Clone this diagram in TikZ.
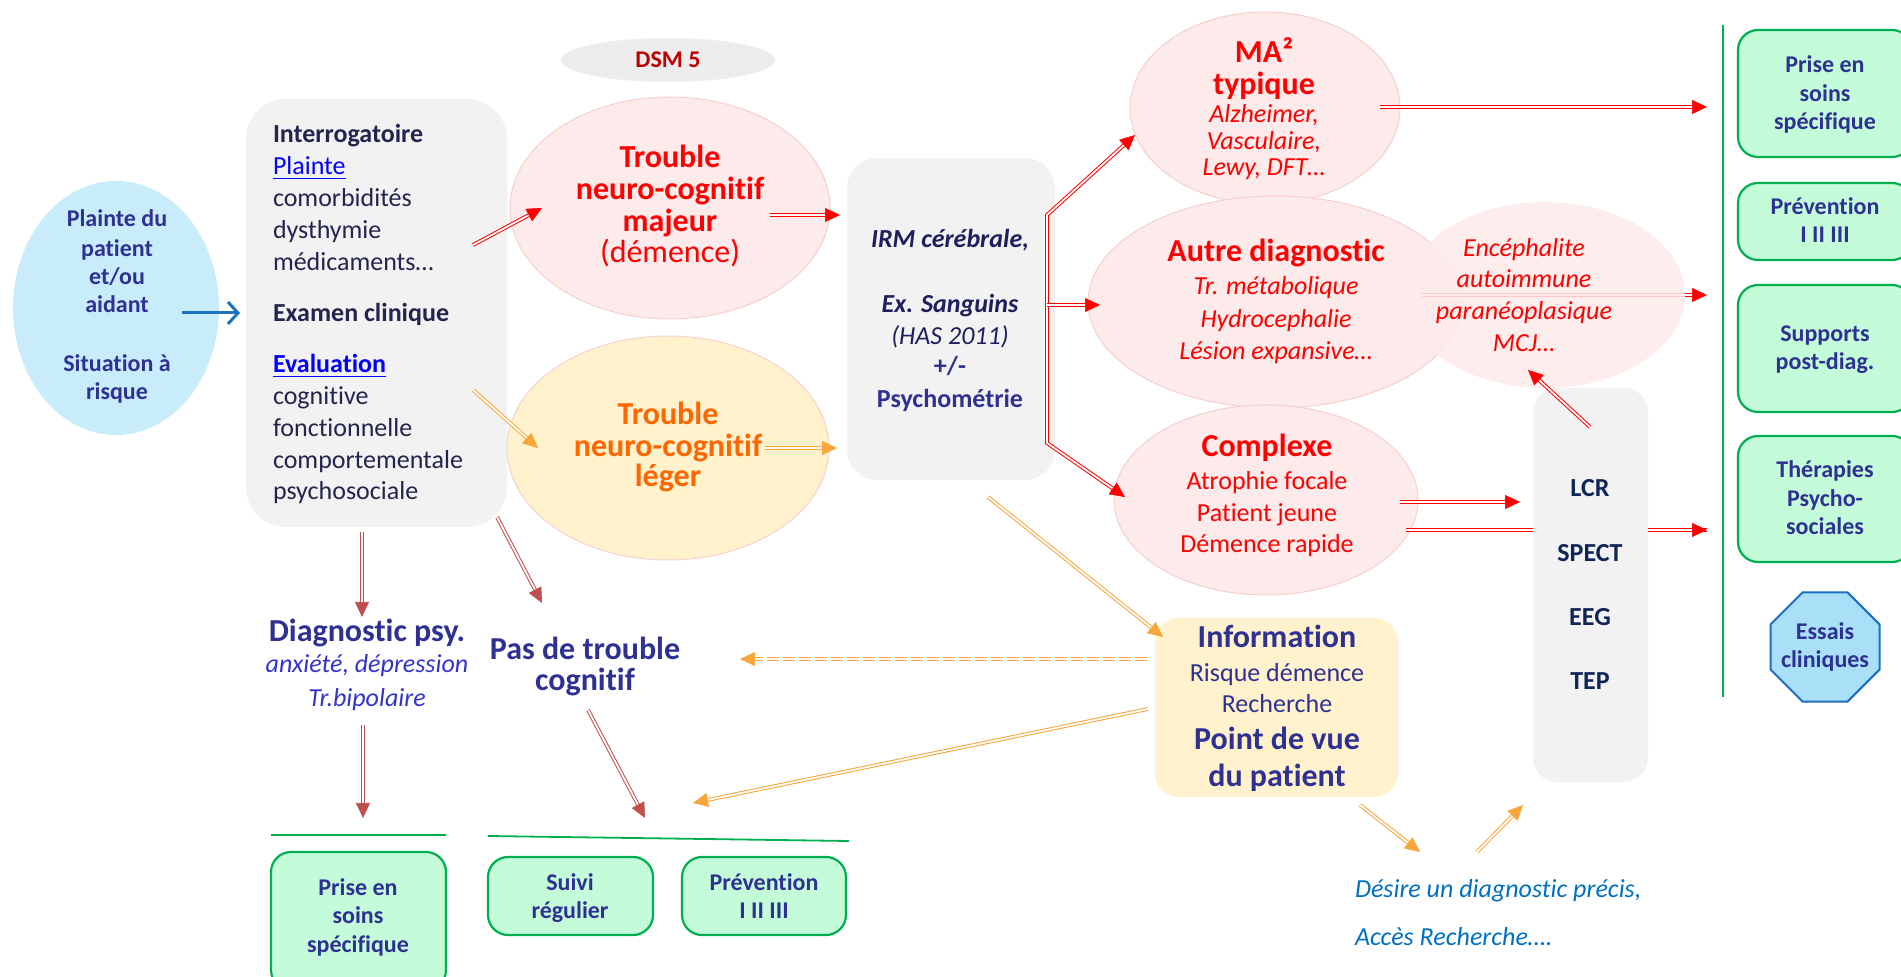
\documentclass[tikz,border=0pt]{standalone}
\usepackage{fontspec}
\setmainfont{Carlito}[Ligatures=NoCommon]
\usetikzlibrary{arrows.meta,calc,shapes.geometric}
\definecolor{navy}{HTML}{2E3192}
\definecolor{boxtxt}{HTML}{24244F}
\definecolor{irmtxt}{HTML}{1F1F5E}
\definecolor{lcrtxt}{HTML}{0F2557}
\definecolor{myred}{HTML}{FF0000}
\definecolor{dred}{HTML}{C0504D}
\definecolor{orng}{HTML}{F8A53A}
\definecolor{orgtxt}{HTML}{FF6600}
\definecolor{dsmred}{HTML}{C00000}
\definecolor{pinkfill}{HTML}{FDEAEA}
\definecolor{pinkedge}{HTML}{F6CFCF}
\definecolor{yelfill}{HTML}{FFF2CC}
\definecolor{grayfill}{HTML}{F2F2F2}
\definecolor{bluefill}{HTML}{C8ECFA}
\definecolor{mint}{HTML}{C4FCDA}
\definecolor{grn}{HTML}{00B050}
\definecolor{arrblue}{HTML}{1C75BC}
\definecolor{octfill}{HTML}{A9E0F8}
\definecolor{octedge}{HTML}{1F6FC0}
\definecolor{italblue}{HTML}{3333CC}
\definecolor{desblue}{HTML}{0070C0}
\definecolor{linkblue}{HTML}{0000FF}
\newcommand\mytip[3]{\draw[#1, line width=0.3pt, -{Triangle[length=7.5pt,width=7pt]}] ($(#3)!7pt!(#2)$) -- (#3);}
\newcommand\darrow[4][]{\draw[dbl=#2, #1] (#3) -- (#4); \mytip{#2}{#3}{#4}}
\begin{document}
\begin{tikzpicture}[x=0.5pt,y=-0.5pt,
  every node/.style={inner sep=0pt, outer sep=0pt},
  tl/.style={anchor=base},
  tlw/.style={anchor=base west},
  fb16/.style={font=\fontsize{16}{19}\selectfont\bfseries},
  fr16/.style={font=\fontsize{16}{19}\selectfont},
  fb13/.style={font=\fontsize{13}{16}\selectfont\bfseries},
  fb12/.style={font=\fontsize{12}{14}\selectfont\bfseries},
  fr13/.style={font=\fontsize{13}{16}\selectfont},
  fi13/.style={font=\fontsize{13}{16}\selectfont\itshape},
  fbi13/.style={font=\fontsize{13}{16}\selectfont\bfseries\itshape},
  pinkell/.style={ellipse, fill=pinkfill, draw=pinkedge, line width=0.5pt},
  graybox/.style={rectangle, fill=grayfill},
  greenbox/.style={rectangle, rounded corners=10pt, fill=mint, draw=grn, line width=1.1pt},
  dbl/.style={draw=#1, line width=0.5pt, double=white, double distance=0.9pt, shorten >=6pt},
]
\useasboundingbox (0,0) rectangle (1901,977);
\clip (0,0) rectangle (1901,977);

% ---------- coordinates for connectors
\coordinate (bl1) at (182,313); \coordinate (bl2) at (240,313);
\coordinate (a1s) at (473,245); \coordinate (a1e) at (542,208);
\coordinate (a2s) at (770,215); \coordinate (a2e) at (840,215);
\coordinate (brt) at (1047,215); \coordinate (brm) at (1047,305); \coordinate (brb) at (1047,443);
\coordinate (mae) at (1135,135); \coordinate (aue) at (1100,305); \coordinate (cxe) at (1125,497);
\coordinate (r1s) at (1380,107); \coordinate (r1e) at (1707,107);
\coordinate (r2s) at (1422,295); \coordinate (r2e) at (1707,295);
\coordinate (r3s) at (1400,502); \coordinate (r3e) at (1520,502);
\coordinate (r4s) at (1406,530); \coordinate (r4e) at (1707,530);
\coordinate (r5s) at (1590,427); \coordinate (r5e) at (1528,370);
\coordinate (o1s) at (473,390); \coordinate (o1e) at (538,448);
\coordinate (o2s) at (765,448); \coordinate (o2e) at (837,448);
\coordinate (o3s) at (988,497); \coordinate (o3e) at (1163,637);
\coordinate (o4s) at (1147,659); \coordinate (o4e) at (740,659);
\coordinate (o5s) at (1148,709); \coordinate (o5e) at (693,803);
\coordinate (o6s) at (1360,805); \coordinate (o6e) at (1420,852);
\coordinate (o7s) at (1477,852); \coordinate (o7e) at (1523,805);
\coordinate (d1s) at (362,532); \coordinate (d1e) at (362,617);
\coordinate (d2s) at (497,517); \coordinate (d2e) at (542,603);
\coordinate (d3s) at (363,725); \coordinate (d3e) at (363,818);
\coordinate (d4s) at (588,710); \coordinate (d4e) at (645,818);
\coordinate (gv1) at (1723,25); \coordinate (gv2) at (1723,697);
\coordinate (gh1a) at (271,835); \coordinate (gh1b) at (446,835);
\coordinate (gh2a) at (488,836); \coordinate (gh2b) at (849,841);

% ---------- shapes
\node[ellipse, fill=bluefill, minimum width=103pt, minimum height=127pt] (pat) at (116,308) {};
\node[graybox, rounded corners=20pt, minimum width=130.5pt, minimum height=214pt] (box1) at (376.5,313) {};
\node[ellipse, fill=black!7, minimum width=107pt, minimum height=22pt] (dsm) at (668,60) {};
\node[pinkell, minimum width=160pt, minimum height=111pt] (maj) at (670,208) {};
\node[ellipse, fill=yelfill, draw=pinkedge, line width=0.5pt, minimum width=161pt, minimum height=112pt] (leg) at (668,448) {};
\node[graybox, rounded corners=15pt, minimum width=104pt, minimum height=161pt] (irm) at (951,319) {};
\node[pinkell, minimum width=135pt, minimum height=96pt] (ma) at (1265,108) {};
\node[pinkell, minimum width=187pt, minimum height=106pt] (autre) at (1275,302) {};
\node[tl, fb16, text=myred] (autre-1) at (1276,262) {Autre diagnostic};
\foreach \i/\y/\tx in {2/295/{Tr. métabolique},3/328/{Hydrocephalie},4/360/{Lésion expansive…}}
  \node[tl, fi13, text=myred] (autre-\i) at (1276,\y) {\tx};
\darrow{myred}{r2s}{r2e}
\node[pinkell, minimum width=152pt, minimum height=95pt] (cx) at (1266,500) {};
\draw[dbl=myred, shorten >=0pt] (r4s) -- (r4e);
\node[graybox, rounded corners=12pt, minimum width=57.5pt, minimum height=197pt] (lcr) at (1590.5,585) {};
\mytip{myred}{r4s}{r4e}
\node[ellipse, fill=pinkfill, fill opacity=0.85, minimum width=140pt, minimum height=93pt] (enc) at (1545,295) {};
\node[rectangle, rounded corners=12pt, fill=yelfill, minimum width=121.5pt, minimum height=89.5pt] (info) at (1276.5,707.5) {};

% right column
\draw[grn, line width=1pt] (gv1) -- (gv2);
\node[greenbox, minimum width=87pt, minimum height=63.5pt] (r1) at (1825,93.5) {};
\node[greenbox, minimum width=87pt, minimum height=38.5pt] (r2) at (1825,221.5) {};
\node[greenbox, minimum width=87pt, minimum height=63.5pt] (r3) at (1825,348.5) {};
\node[greenbox, minimum width=87pt, minimum height=63pt] (r4) at (1825,499) {};
\node[regular polygon, regular polygon sides=8, minimum size=59pt, fill=octfill, draw=octedge, line width=1pt] (ess) at (1825,647) {};

% bottom
\draw[grn, line width=1.1pt] (gh1a) -- (gh1b);
\draw[grn, line width=0.9pt] (gh2a) -- (gh2b);
\node[greenbox, minimum width=87.5pt, minimum height=69pt] (b1) at (358.5,921) {};
\node[greenbox, minimum width=82.5pt, minimum height=39pt] (b2) at (570.5,896) {};
\node[greenbox, minimum width=82pt, minimum height=39pt] (b3) at (764,896) {};

% ---------- texts
\foreach \i/\y/\tx in {1/227/{Plainte du},2/257/{patient},3/285/{et/ou},4/313/{aidant},5/372/{Situation à},6/400/{risque}}
  \node[tl, fb12, text=navy] (pat-\i) at (117,\y) {\tx};
\foreach \i/\y/\tx in {1/143/{\textbf{Interrogatoire}},2/175/{\textcolor{linkblue}{\underline{Plainte}}},3/207/{comorbidités},4/239/{dysthymie},5/271/{médicaments…},6/322/{\textbf{Examen clinique}},7/373/{\textcolor{linkblue}{\underline{\textbf{Evaluation}}}},8/405/{cognitive},9/437/{fonctionnelle},10/469/{comportementale},11/500/{psychosociale}}
  \node[tlw, fr13, text=boxtxt] (b1-\i) at (273,\y) {\tx};
\node[tl, fb12, text=dsmred] (dsm-t) at (668,68) {DSM 5};
\foreach \i/\y/\tx in {1/168/{\textbf{Trouble}},2/200/{\textbf{neuro-cognitif}},3/232/{\textbf{majeur}},4/263/{(démence)}}
  \node[tl, fr16, text=myred] (maj-\i) at (670,\y) {\tx};
\foreach \i/\y/\tx in {1/425/{Trouble},2/457/{neuro-cognitif},3/487/{léger}}
  \node[tl, fb16, text=orgtxt] (leg-\i) at (668,\y) {\tx};
\node[tl, fbi13, text=irmtxt] (irm-1) at (950,248) {IRM cérébrale,};
\node[tl, fbi13, text=irmtxt] (irm-2) at (950,313) {Ex. Sanguins};
\node[tl, fi13, text=irmtxt] (irm-3) at (950,345) {(HAS 2011)};
\node[tl, fb13, text=navy] (irm-4) at (950,375) {+/-};
\node[tl, fb13, text=navy] (irm-5) at (950,408) {Psychométrie};
\node[tl, fb16, text=myred] (ma-1) at (1264,63) {MA²};
\node[tl, fb16, text=myred] (ma-2) at (1264,95) {typique};
\foreach \i/\y/\tx in {3/123/{Alzheimer,},4/150/{Vasculaire,},5/176/{Lewy, DFT…}}
  \node[tl, fi13, text=myred] (ma-\i) at (1264,\y) {\tx};
\node[tl, fb16, text=myred] (cx-1) at (1267,457) {Complexe};
\foreach \i/\y/\tx in {2/490/{Atrophie focale},3/522/{Patient jeune},4/553/{Démence rapide}}
  \node[tl, fr13, text=myred] (cx-\i) at (1267,\y) {\tx};
\foreach \i/\y/\tx in {1/257/{Encéphalite},2/288/{autoimmune},3/320/{paranéoplasique},4/352/{MCJ…}}
  \node[tl, fi13, text=myred] (enc-\i) at (1524,\y) {\tx};
\foreach \i/\y/\tx in {1/497/{LCR},2/562/{SPECT},3/626/{EEG},4/690/{TEP}}
  \node[tl, fb13, text=lcrtxt] (lcr-\i) at (1590,\y) {\tx};
\node[tl, fb16, text=navy] (info-1) at (1277,648) {Information};
\node[tl, fr13, text=navy] (info-2) at (1277,682) {Risque démence};
\node[tl, fr13, text=navy] (info-3) at (1277,713) {Recherche};
\node[tl, fb16, text=navy] (info-4) at (1277,750) {Point de vue};
\node[tl, fb16, text=navy] (info-5) at (1277,787) {du patient};
\node[tl, fb16, text=navy] (psy-1) at (367,642) {Diagnostic psy.};
\node[tl, fi13, text=italblue] (psy-2) at (367,673) {anxiété, dépression};
\node[tl, fi13, text=italblue] (psy-3) at (367,707) {Tr.bipolaire};
\node[tl, fb16, text=navy] (pas-1) at (585,660) {Pas de trouble};
\node[tl, fb16, text=navy] (pas-2) at (585,691) {cognitif};
\node[tlw, fi13, text=desblue] (des-1) at (1355,897) {Désire un diagnostic précis,};
\node[tlw, fi13, text=desblue] (des-2) at (1355,945) {Accès Recherche….};
\foreach \i/\y/\tx in {1/73/{Prise en},2/102/{soins},3/130/{spécifique}}
  \node[tl, fb12, text=navy] (r1-\i) at (1825,\y) {\tx};
\foreach \i/\y/\tx in {1/215/{Prévention},2/243/{I II III}}
  \node[tl, fb12, text=navy] (r2-\i) at (1825,\y) {\tx};
\foreach \i/\y/\tx in {1/342/{Supports},2/370/{post-diag.}}
  \node[tl, fb12, text=navy] (r3-\i) at (1825,\y) {\tx};
\foreach \i/\y/\tx in {1/478/{Thérapies},2/507/{Psycho-},3/535/{sociales}}
  \node[tl, fb12, text=navy] (r4-\i) at (1825,\y) {\tx};
\foreach \i/\y/\tx in {1/640/{Essais},2/668/{cliniques}}
  \node[tl, fb12, text=navy] (ess-\i) at (1825,\y) {\tx};
\foreach \i/\y/\tx in {1/895/{Prise en},2/923/{soins},3/952/{spécifique}}
  \node[tl, fb12, text=navy] (b1t-\i) at (358,\y) {\tx};
\foreach \i/\y/\tx in {1/890/{Suivi},2/918/{régulier}}
  \node[tl, fb12, text=navy] (b2t-\i) at (570,\y) {\tx};
\foreach \i/\y/\tx in {1/890/{Prévention},2/918/{I II III}}
  \node[tl, fb12, text=navy] (b3t-\i) at (764,\y) {\tx};

% ---------- connectors
\draw[arrblue, line width=1.5pt, -{Straight Barb[length=5pt,width=11pt]}] (bl1) -- (bl2);
\darrow{myred}{a1s}{a1e}
\darrow{myred}{a2s}{a2e}
\draw[dbl=myred] (brb) -- (brt) -- (mae); \mytip{myred}{brt}{mae}
\draw[dbl=myred] (brt) -- (brb) -- (cxe); \mytip{myred}{brb}{cxe}
\darrow{myred}{brm}{aue}
\darrow{myred}{r1s}{r1e}
\darrow{myred}{r3s}{r3e}
\darrow{myred}{r5s}{r5e}
\darrow{orng}{o1s}{o1e}
\darrow{orng}{o2s}{o2e}
\darrow{orng}{o3s}{o3e}
\darrow[dash pattern=on 6pt off 2pt]{orng}{o4s}{o4e}
\darrow{orng}{o5s}{o5e}
\darrow{orng}{o6s}{o6e}
\darrow{orng}{o7s}{o7e}
\darrow{dred}{d1s}{d1e}
\darrow{dred}{d2s}{d2e}
\darrow{dred}{d3s}{d3e}
\darrow{dred}{d4s}{d4e}
\end{tikzpicture}
\end{document}
